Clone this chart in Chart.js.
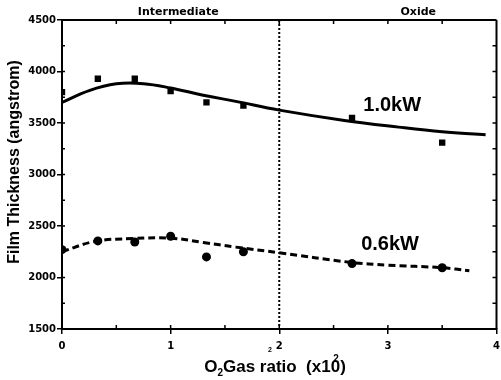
<!DOCTYPE html>
<html>
<head>
<meta charset="utf-8">
<script src="https://cdn.jsdelivr.net/npm/chart.js@4/dist/chart.umd.min.js"></script>
<style>
  html, body { margin: 0; padding: 0; background: #fff; overflow: hidden; }
  canvas { display: block; }
</style>
</head>
<body>
<canvas id="filmChart" width="501" height="380"></canvas>
<script>
  // measured points (O2 gas ratio vs film thickness)
  const gasRatio = [0, 0.33, 0.67, 1.0, 1.33, 1.67, 2.67, 3.5];
  const thick1kW = [3800, 3930, 3930, 3810, 3700, 3670, 3550, 3310];
  const thick06kW = [2270, 2355, 2345, 2400, 2200, 2250, 2135, 2095];

  // fitted curves
  const fitX1kW = [0, 0.25, 0.5, 0.75, 1.0, 1.3, 1.6, 2.0, 2.6, 3.1, 3.5, 3.9];
  const fitY1kW = [3700, 3815, 3880, 3882, 3840, 3770, 3710, 3625, 3525, 3460, 3415, 3385];
  const fitX06kW = [0, 0.3, 0.65, 1.0, 1.3, 1.6, 2.0, 2.65, 3.0, 3.5, 3.75];
  const fitY06kW = [2250, 2350, 2378, 2382, 2340, 2295, 2240, 2148, 2120, 2095, 2065];

  const xTicks = [0, 1, 2, 3, 4];
  const yTicks = [1500, 2000, 2500, 3000, 3500, 4000, 4500];
  const regionLabels = ["Intermediate", "Oxide"];
  const regionPos = [1.07, 3.28];
  const boundary = 2;

  const pts = (xs, ys) => xs.map((x, i) => ({ x, y: ys[i] }));

  const TICK_FONT = "DejaVu Sans";
  const TEXT_FONT = "'Liberation Sans', Arial, sans-serif";

  const decorations = {
    id: "decorations",
    beforeDatasetsDraw(chart) {
      const { ctx, chartArea: a, scales: { x } } = chart;
      ctx.save();
      ctx.strokeStyle = "#000";

      // dotted phase boundary
      const bx = x.getPixelForValue(boundary);
      ctx.lineWidth = 2;
      ctx.setLineDash([2, 2]);
      ctx.beginPath();
      ctx.moveTo(bx, a.top);
      ctx.lineTo(bx, a.bottom);
      ctx.stroke();
      ctx.restore();
    },
    afterDraw(chart) {
      const { ctx, chartArea: a, scales: { x, y } } = chart;
      ctx.save();
      ctx.strokeStyle = "#000";
      ctx.fillStyle = "#000";

      // top and right frame
      ctx.lineWidth = 2;
      ctx.beginPath();
      ctx.moveTo(a.left, a.top);
      ctx.lineTo(a.right, a.top);
      ctx.moveTo(a.right, a.top);
      ctx.lineTo(a.right, a.bottom);
      ctx.stroke();

      // inward minor ticks
      ctx.lineWidth = 1.5;
      ctx.beginPath();
      for (let v = 0.5; v < 4; v += 0.5) {
        const px = x.getPixelForValue(v);
        ctx.moveTo(px, a.bottom);
        ctx.lineTo(px, a.bottom - 4);
        ctx.moveTo(px, a.top);
        ctx.lineTo(px, a.top + 4);
      }
      for (let v = 1750; v < 4500; v += 250) {
        const py = y.getPixelForValue(v);
        ctx.moveTo(a.left, py);
        ctx.lineTo(a.left + 3, py);
        ctx.moveTo(a.right, py);
        ctx.lineTo(a.right - 4, py);
      }
      ctx.stroke();

      // region labels above the plot
      ctx.font = `bold 11px ${TICK_FONT}`;
      ctx.textAlign = "center";
      ctx.textBaseline = "middle";
      regionLabels.forEach((t, i) => ctx.fillText(t, x.getPixelForValue(regionPos[i]), 12));

      // series labels
      ctx.font = `bold 20px ${TEXT_FONT}`;
      ctx.fillText("1.0kW", x.getPixelForValue(3.04), y.getPixelForValue(3673));
      ctx.fillText("0.6kW", x.getPixelForValue(3.02), y.getPixelForValue(2317));

      // y axis title
      ctx.save();
      ctx.translate(15, 162);
      ctx.rotate(-Math.PI / 2);
      ctx.font = `bold 16px ${TEXT_FONT}`;
      ctx.fillText("Film Thickness (angstrom)", 0, 0);
      ctx.restore();

      // x axis title: O2Gas ratio (x10^2)
      const big = `bold 17px ${TEXT_FONT}`;
      const small = `bold 10px ${TEXT_FONT}`;
      ctx.textAlign = "left";
      ctx.textBaseline = "alphabetic";
      ctx.font = big;
      const wO = ctx.measureText("O").width;
      const wMid = ctx.measureText("Gas ratio  (x10").width;
      const wEnd = ctx.measureText(")").width;
      ctx.font = small;
      const wSub = ctx.measureText("2").width;
      const total = wO + wSub + wMid + wEnd;
      let cx = 275 - total / 2;
      const base = 372;
      ctx.font = big;
      ctx.fillText("O", cx, base);
      cx += wO;
      ctx.font = small;
      ctx.fillText("2", cx, base + 4);
      cx += wSub;
      ctx.font = big;
      ctx.fillText("Gas ratio  (x10", cx, base);
      cx += wMid;
      ctx.font = small;
      ctx.fillText("2", cx - 7, base - 10);
      ctx.font = big;
      ctx.fillText(")", cx, base);

      // stray mark above the title
      ctx.font = `bold 7px ${TEXT_FONT}`;
      ctx.fillText("2", 268, 352);
      ctx.restore();
    }
  };

  new Chart(document.getElementById("filmChart"), {
    type: "scatter",
    data: {
      datasets: [
        {
          label: "1.0kW fit",
          data: pts(fitX1kW, fitY1kW),
          showLine: true,
          borderColor: "#000",
          borderWidth: 3,
          pointRadius: 0,
          tension: 0.4,
        },
        {
          label: "0.6kW fit",
          data: pts(fitX06kW, fitY06kW),
          showLine: true,
          borderColor: "#000",
          borderWidth: 3,
          borderDash: [7, 4],
          pointRadius: 0,
          tension: 0.4,
        },
        {
          label: "1.0kW",
          data: pts(gasRatio, thick1kW),
          pointStyle: "rect",
          pointRadius: 4.5,
          backgroundColor: "#000",
          borderColor: "#000",
          borderWidth: 0,
        },
        {
          label: "0.6kW",
          data: pts(gasRatio, thick06kW),
          pointStyle: "circle",
          pointRadius: 4.5,
          backgroundColor: "#000",
          borderColor: "#000",
          borderWidth: 0,
        },
      ],
    },
    options: {
      responsive: false,
      animation: false,
      devicePixelRatio: 1,
      layout: { padding: { top: 20, right: -1, left: 0, bottom: 0 } },
      plugins: { legend: { display: false }, tooltip: { enabled: false } },
      scales: {
        x: {
          type: "linear",
          min: 0,
          max: 4,
          afterBuildTicks: (s) => { s.ticks = xTicks.map((v) => ({ value: v })); },
          afterFit: (s) => { s.height = 51; s.paddingLeft = 0; s.paddingRight = 0; },
          grid: { drawOnChartArea: false, color: "#000", lineWidth: 1.5, tickLength: 5 },
          border: { display: true, color: "#000", width: 2 },
          ticks: { color: "#000", font: { family: TICK_FONT, weight: "bold", size: 10 }, padding: 6, maxRotation: 0 },
        },
        y: {
          min: 1500,
          max: 4500,
          afterBuildTicks: (s) => { s.ticks = yTicks.map((v) => ({ value: v })); },
          afterFit: (s) => { s.width = 62; s.paddingTop = 0; s.paddingBottom = 0; },
          grid: { drawOnChartArea: false, color: "#000", lineWidth: 1.5, tickLength: 5 },
          border: { display: true, color: "#000", width: 2 },
          ticks: {
            color: "#000",
            font: { family: TICK_FONT, weight: "bold", size: 10 },
            padding: 1,
            callback: (v) => String(v),
          },
        },
      },
    },
    plugins: [decorations],
  });
</script>
</body>
</html>
